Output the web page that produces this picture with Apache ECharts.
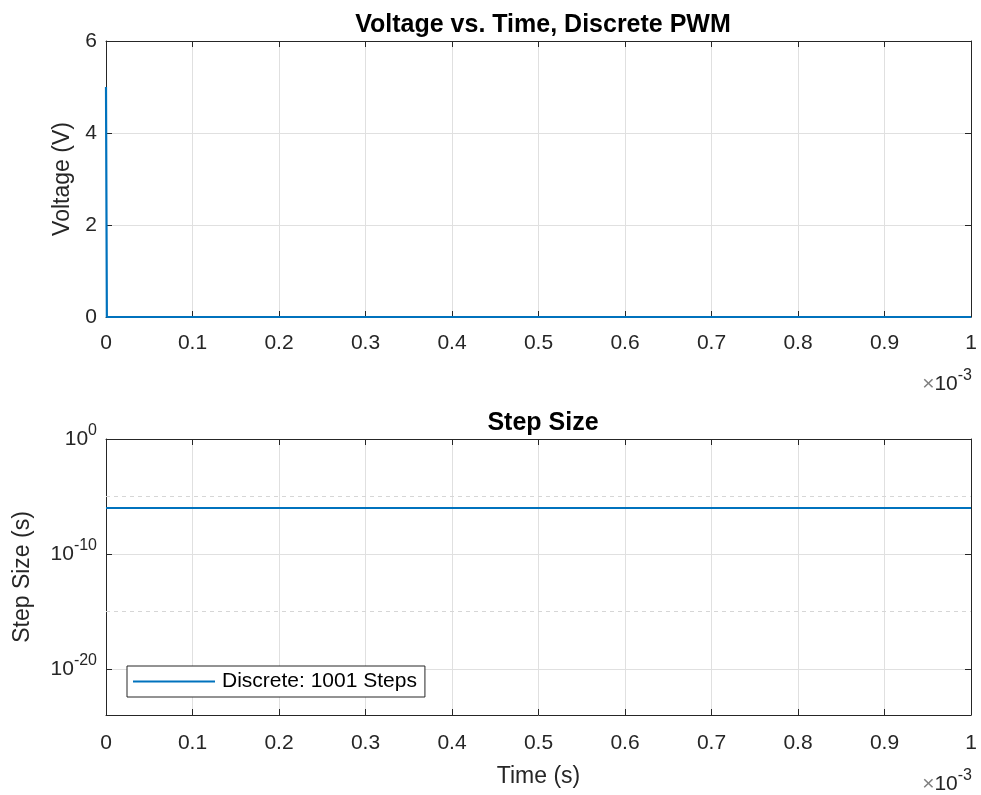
<!DOCTYPE html>
<html>
<head>
<meta charset="utf-8">
<script src="https://cdn.jsdelivr.net/npm/echarts@6/dist/echarts.min.js"></script>
<style>html,body{margin:0;padding:0;background:#fff;}#c{width:981px;height:795px;}</style>
</head>
<body>
<div id="c"></div>
<script>
// Data
const voltTime = [0, 0.000001, 0.001];        // seconds
const voltage = [5, 0, 0];                    // V
const stepTime = [0, 0.001];                  // seconds
const stepSize = [1e-6, 1e-6];                // s
const seriesName = 'Discrete: 1001 Steps';
const logMajor = [1e-20, 1e-10, 1];
const logMinor = [1e-15, 1e-5];

const FONT = '"Liberation Sans", Arial, Helvetica, sans-serif';
const AX = '#262626';
const GRIDC = '#e0e0e0';
const BLUE = '#0072BD';

const chart = echarts.init(document.getElementById('c'), null, {renderer: 'canvas'});

function xAxisDef(gi, pos, showLab, name, margin) {
  return {
    type: 'value', gridIndex: gi, position: pos,
    min: 0, max: 0.001, interval: 0.0001,
    name: name || '', nameLocation: 'middle', nameGap: 50,
    nameTextStyle: {fontFamily: FONT, fontSize: 23, color: AX},
    axisLine: {show: true, onZero: false, lineStyle: {color: AX, width: 1}},
    axisTick: {show: true, inside: true, length: 6, lineStyle: {color: AX}},
    axisLabel: {show: showLab, margin: margin || 16, fontFamily: FONT, fontSize: 21, color: AX,
      formatter: v => { const t = Math.round(v * 1e4) / 10; return String(t); }},
    splitLine: {show: pos === 'bottom', lineStyle: {color: GRIDC, width: 1}}
  };
}
function yLinDef(gi, pos, showLab) {
  return {
    type: 'value', gridIndex: gi, position: pos,
    min: 0, max: 6, interval: 2,
    name: showLab ? 'Voltage (V)' : '', nameLocation: 'middle', nameGap: 27,
    nameTextStyle: {fontFamily: FONT, fontSize: 23, color: AX},
    axisLine: {show: true, onZero: false, lineStyle: {color: AX, width: 1}},
    axisTick: {show: true, inside: true, length: 6, lineStyle: {color: AX}},
    axisLabel: {show: showLab, margin: 9, fontFamily: FONT, fontSize: 21, color: AX},
    splitLine: {show: pos === 'left', lineStyle: {color: GRIDC, width: 1}}
  };
}
function yLogDef(gi, pos, showLab) {
  return {
    type: 'log', logBase: 10, gridIndex: gi, position: pos,
    min: 1e-24, max: 1,
    name: showLab ? 'Step Size (s)' : '', nameLocation: 'middle', nameGap: 72,
    nameTextStyle: {fontFamily: FONT, fontSize: 23, color: AX},
    axisLine: {show: true, onZero: false, lineStyle: {color: AX, width: 1}},
    axisTick: {show: true, inside: true, length: 6, lineStyle: {color: AX}, customValues: logMajor},
    axisLabel: {show: showLab, margin: 9, customValues: logMajor,
      formatter: v => '{b|10}{s|' + Math.round(Math.log10(v)) + '}',
      rich: {
        b: {fontFamily: FONT, fontSize: 21, color: AX},
        s: {fontFamily: FONT, fontSize: 16, color: AX, padding: [0, 0, 17, 0]}
      }},
    splitLine: {show: pos === 'left', lineStyle: {color: GRIDC, width: 1}}
  };
}

const supText = {
  text: '{a|×}{b|10}{s|-3}',
  rich: {a: {fontFamily: FONT, fontSize: 21, fill: '#808080'}, b: {fontFamily: FONT, fontSize: 21, fill: AX},
         s: {fontFamily: FONT, fontSize: 16, fill: AX, padding: [0, 0, 17, 0]}}
};

const option = {
  animation: false,
  backgroundColor: '#fff',
  title: [
    {text: 'Voltage vs. Time, Discrete PWM', left: 538, top: 8, textAlign: 'center',
     textStyle: {fontFamily: FONT, fontSize: 25, fontWeight: 'bold', color: '#000'}},
    {text: 'Step Size', left: 538, top: 406, textAlign: 'center',
     textStyle: {fontFamily: FONT, fontSize: 25, fontWeight: 'bold', color: '#000'}}
  ],
  grid: [
    {left: 106, right: 10, top: 41, height: 276, containLabel: false},
    {left: 106, right: 10, top: 439, height: 276, containLabel: false}
  ],
  xAxis: [
    xAxisDef(0, 'bottom', true, '', 16),
    xAxisDef(0, 'top', false),
    xAxisDef(1, 'bottom', true, 'Time (s)', 18),
    xAxisDef(1, 'top', false)
  ],
  yAxis: [
    yLinDef(0, 'left', true),
    yLinDef(0, 'right', false),
    yLogDef(1, 'left', true),
    yLogDef(1, 'right', false)
  ],
  legend: {
    data: [seriesName], left: 127, top: 666, orient: 'horizontal',
    icon: 'rect', itemWidth: 82, itemHeight: 2, itemGap: 0,
    padding: [5, 8, 5, 6],
    backgroundColor: '#fff', borderColor: AX, borderWidth: 1, borderRadius: 0,
    textStyle: {fontFamily: FONT, fontSize: 21, color: '#000', padding: [0, 0, 0, 2]}
  },
  graphic: [
    {type: 'text', right: 9, top: 368, style: supText},
    {type: 'text', right: 9, top: 768, style: supText}
  ],
  series: [
    {type: 'line', name: 'Voltage', xAxisIndex: 0, yAxisIndex: 0,
     data: voltTime.map((t, i) => [t, voltage[i]]),
     symbol: 'none', lineStyle: {color: BLUE, width: 2.2}, itemStyle: {color: BLUE}, z: 5},
    ...logMinor.map((v, k) => ({
      type: 'line', name: 'minor' + k, xAxisIndex: 2, yAxisIndex: 2,
      data: [[stepTime[0], v], [stepTime[stepTime.length - 1], v]],
      symbol: 'none', silent: true, lineStyle: {color: '#d6d6d6', width: 1, type: [4, 4]}, z: 1
    })),
    {type: 'line', name: seriesName, xAxisIndex: 2, yAxisIndex: 2,
     data: stepTime.map((t, i) => [t, stepSize[i]]),
     symbol: 'none', lineStyle: {color: BLUE, width: 2.2}, itemStyle: {color: BLUE}, z: 5}
  ]
};
chart.setOption(option);
</script>
</body>
</html>
